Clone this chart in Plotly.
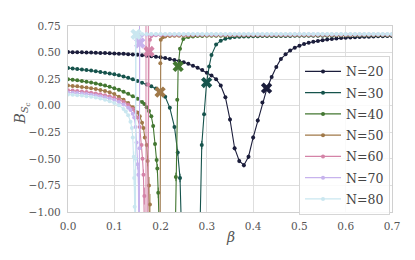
import plotly.graph_objects as go

# ---------------- data ----------------
beta_20 = [0.00,0.01,0.02,0.03,0.04,0.05,0.06,0.07,0.08,0.09,
           0.10,0.11,0.12,0.13,0.14,0.15,0.16,0.17,0.18,0.19,
           0.20,0.21,0.22,0.23,0.24,0.25,0.26,0.27,0.28,0.29,
           0.30,0.31,0.32,0.33,0.34,0.35,0.36,0.37,0.38,0.39,
           0.40,0.41,0.42,0.43,0.44,0.45,0.46,0.47,0.48,0.49,
           0.50,0.51,0.52,0.53,0.54,0.55,0.56,0.57,0.58,0.59,
           0.60,0.61,0.62,0.63,0.64,0.65,0.66,0.67,0.68,0.69,0.70]
B_20 = [0.505,0.504,0.503,0.502,0.501,0.500,0.499,0.497,0.496,0.494,
        0.492,0.490,0.488,0.485,0.482,0.479,0.475,0.471,0.466,0.461,
        0.455,0.448,0.440,0.431,0.420,0.408,0.394,0.377,0.357,0.335,
        0.310,0.285,0.250,0.190,0.080,-0.130,-0.400,-0.520,-0.560,-0.480,
        -0.300,-0.140,0.030,0.165,0.270,0.365,0.440,0.485,0.520,0.545,
        0.565,0.580,0.592,0.602,0.610,0.617,0.623,0.628,0.632,0.636,
        0.639,0.642,0.644,0.646,0.648,0.650,0.651,0.653,0.654,0.655,0.656]

beta_30 = [0.00,0.01,0.02,0.03,0.04,0.05,0.06,0.07,0.08,0.09,
           0.10,0.11,0.12,0.13,0.14,0.15,0.16,0.17,0.18,0.19,0.20,
           0.21,0.22,0.23,0.237,0.242,0.246,0.25,0.26,0.27,0.28,0.284,0.289,0.294,0.2995,0.305,0.31,0.32,
           0.33,0.34,0.35,0.36,0.37,0.38,0.39,0.40,0.41,0.42,
           0.43,0.44,0.45,0.46,0.47,0.48,0.49,0.50,0.51,0.52,
           0.53,0.54,0.55,0.56,0.57,0.58,0.59,0.60,0.61,0.62,
           0.63,0.64,0.65,0.66,0.67,0.68,0.69,0.70]
B_30 = [0.355,0.351,0.346,0.341,0.336,0.331,0.325,0.318,0.311,0.303,
        0.295,0.286,0.275,0.262,0.248,0.233,0.217,0.200,0.182,0.162,0.140,
        0.085,-0.020,-0.200,-0.440,-0.680,-1.350,-2.500,-3.500,-3.200,-2.200,-1.400,-0.370,-0.080,0.220,0.370,0.476,0.575,
        0.612,0.630,0.640,0.646,0.649,0.651,0.652,0.653,0.654,0.655,
        0.655,0.656,0.656,0.657,0.657,0.657,0.658,0.658,0.658,0.658,
        0.659,0.659,0.659,0.659,0.659,0.660,0.660,0.660,0.660,0.660,
        0.660,0.661,0.661,0.661,0.661,0.661,0.661,0.661]

beta_40 = [0.00,0.01,0.02,0.03,0.04,0.05,0.06,0.07,0.08,0.09,
           0.10,0.11,0.12,0.13,0.14,0.15,0.16,
           0.165,0.17,0.175,0.18,0.184,0.188,0.1915,0.193,0.195,0.197,0.20,0.21,0.22,0.229,0.233,0.236,0.238,0.242,0.249,
           0.26,0.27,0.28,0.29,0.30,0.31,0.32,0.33,0.34,0.35,
           0.36,0.37,0.38,0.39,0.40,0.41,0.42,0.43,0.44,0.45,
           0.46,0.47,0.48,0.49,0.50,0.51,0.52,0.53,0.54,0.55,
           0.56,0.57,0.58,0.59,0.60,0.61,0.62,0.63,0.64,0.65,
           0.66,0.67,0.68,0.69,0.70]
B_40 = [0.250,0.245,0.239,0.233,0.226,0.218,0.210,0.200,0.190,0.178,
        0.165,0.150,0.132,0.112,0.090,0.065,0.035,
        0.015,-0.015,-0.050,-0.100,-0.190,-0.360,-0.510,-0.590,-0.820,-1.300,-2.400,-3.300,-3.000,-1.900,-0.670,0.056,0.370,0.537,0.628,
        0.646,0.652,0.655,0.657,0.658,0.658,0.659,0.659,0.659,0.660,
        0.660,0.660,0.660,0.661,0.661,0.661,0.661,0.661,0.661,0.661,
        0.661,0.662,0.662,0.662,0.662,0.662,0.662,0.662,0.662,0.662,
        0.662,0.662,0.662,0.662,0.663,0.663,0.663,0.663,0.663,0.663,
        0.663,0.663,0.663,0.663,0.663]

beta_50 = [0.00,0.01,0.02,0.03,0.04,0.05,0.06,0.07,0.08,0.09,
           0.10,0.11,0.12,0.13,0.14,0.15,
           0.155,0.16,0.163,0.166,0.17,0.172,0.175,0.177,0.179,0.185,0.19,0.195,0.1985,0.199,0.1995,0.2005,0.205,0.21,
           0.22,0.23,0.24,0.25,0.26,0.27,0.28,0.29,0.30,0.31,
           0.32,0.33,0.34,0.35,0.36,0.37,0.38,0.39,0.40,0.41,
           0.42,0.43,0.44,0.45,0.46,0.47,0.48,0.49,0.50,0.51,
           0.52,0.53,0.54,0.55,0.56,0.57,0.58,0.59,0.60,0.61,
           0.62,0.63,0.64,0.65,0.66,0.67,0.68,0.69,0.70]
B_50 = [0.190,0.186,0.182,0.177,0.171,0.165,0.157,0.149,0.139,0.127,
        0.110,0.085,0.055,0.025,-0.015,-0.065,
        -0.100,-0.160,-0.210,-0.300,-0.370,-0.520,-0.750,-0.930,-1.500,-2.600,-3.000,-2.500,-1.600,0.130,0.400,0.620,0.645,0.652,
        0.656,0.658,0.659,0.660,0.661,0.661,0.662,0.662,0.662,0.663,
        0.663,0.663,0.663,0.663,0.663,0.663,0.663,0.663,0.663,0.663,
        0.663,0.663,0.664,0.664,0.664,0.664,0.664,0.664,0.664,0.664,
        0.664,0.664,0.664,0.664,0.664,0.664,0.664,0.664,0.664,0.664,
        0.665,0.665,0.665,0.665,0.665,0.665,0.665,0.665,0.665]

beta_60 = [0.00,0.01,0.02,0.03,0.04,0.05,0.06,0.07,0.08,0.09,
           0.10,0.11,0.12,0.13,0.14,
           0.145,0.15,0.155,0.159,0.161,0.163,0.165,0.167,0.1685,0.171,0.1735,0.175,0.177,0.18,
           0.19,0.20,0.21,0.22,0.23,0.24,0.25,0.26,0.27,0.28,
           0.29,0.30,0.31,0.32,0.33,0.34,0.35,0.36,0.37,0.38,
           0.39,0.40,0.41,0.42,0.43,0.44,0.45,0.46,0.47,0.48,
           0.49,0.50,0.51,0.52,0.53,0.54,0.55,0.56,0.57,0.58,
           0.59,0.60,0.61,0.62,0.63,0.64,0.65,0.66,0.67,0.68,
           0.69,0.70]
B_60 = [0.145,0.142,0.138,0.134,0.129,0.123,0.116,0.108,0.099,0.088,
        0.074,0.058,0.037,0.010,-0.030,
        -0.060,-0.110,-0.200,-0.370,-0.500,-0.650,-0.850,-1.400,-2.000,-1.800,0.200,0.510,0.620,0.655,
        0.664,0.666,0.667,0.667,0.668,0.668,0.668,0.668,0.668,0.668,
        0.668,0.668,0.668,0.668,0.668,0.668,0.668,0.668,0.668,0.668,
        0.668,0.668,0.668,0.668,0.668,0.668,0.668,0.668,0.668,0.668,
        0.669,0.669,0.669,0.669,0.669,0.669,0.669,0.669,0.669,0.669,
        0.669,0.669,0.669,0.669,0.669,0.669,0.669,0.669,0.669,0.669,
        0.669,0.669]

beta_70 = [0.00,0.01,0.02,0.03,0.04,0.05,0.06,0.07,0.08,0.09,
           0.10,0.11,0.12,0.13,
           0.135,0.14,0.143,0.146,0.148,0.150,0.152,0.1535,0.1545,0.155,0.157,
           0.16,0.17,0.18,0.19,0.20,0.21,0.22,0.23,0.24,0.25,
           0.26,0.27,0.28,0.29,0.30,0.31,0.32,0.33,0.34,0.35,
           0.36,0.37,0.38,0.39,0.40,0.41,0.42,0.43,0.44,0.45,
           0.46,0.47,0.48,0.49,0.50,0.51,0.52,0.53,0.54,0.55,
           0.56,0.57,0.58,0.59,0.60,0.61,0.62,0.63,0.64,0.65,
           0.66,0.67,0.68,0.69,0.70]
B_70 = [0.125,0.122,0.119,0.115,0.110,0.104,0.097,0.089,0.079,0.067,
        0.053,0.035,0.012,-0.020,
        -0.040,-0.075,-0.110,-0.200,-0.345,-0.550,-0.650,-1.600,-0.400,0.590,0.655,
        0.666,0.669,0.670,0.670,0.671,0.671,0.671,0.671,0.671,0.671,
        0.671,0.671,0.671,0.671,0.671,0.671,0.671,0.671,0.671,0.671,
        0.671,0.671,0.671,0.671,0.671,0.671,0.671,0.671,0.671,0.671,
        0.671,0.671,0.671,0.671,0.671,0.671,0.671,0.671,0.671,0.671,
        0.671,0.671,0.671,0.671,0.671,0.671,0.671,0.671,0.671,0.671,
        0.671,0.671,0.671,0.671,0.671]

beta_80 = [0.00,0.01,0.02,0.03,0.04,0.05,0.06,0.07,0.08,0.09,
           0.10,0.11,0.12,
           0.125,0.13,0.135,0.138,0.14,0.142,0.143,0.144,0.145,0.146,0.147,0.15,
           0.16,0.17,0.18,0.19,0.20,0.21,0.22,0.23,0.24,0.25,
           0.26,0.27,0.28,0.29,0.30,0.31,0.32,0.33,0.34,0.35,
           0.36,0.37,0.38,0.39,0.40,0.41,0.42,0.43,0.44,0.45,
           0.46,0.47,0.48,0.49,0.50,0.51,0.52,0.53,0.54,0.55,
           0.56,0.57,0.58,0.59,0.60,0.61,0.62,0.63,0.64,0.65,
           0.66,0.67,0.68,0.69,0.70]
B_80 = [0.105,0.102,0.099,0.095,0.090,0.084,0.077,0.068,0.057,0.043,
        0.026,0.004,-0.030,
        -0.055,-0.090,-0.150,-0.210,-0.300,-0.480,-0.680,-0.950,-1.600,-0.500,0.672,0.673,
        0.674,0.674,0.674,0.674,0.674,0.674,0.674,0.674,0.674,0.674,
        0.674,0.674,0.674,0.674,0.674,0.674,0.674,0.674,0.674,0.674,
        0.674,0.674,0.674,0.674,0.674,0.674,0.674,0.674,0.674,0.674,
        0.674,0.674,0.674,0.674,0.674,0.674,0.674,0.674,0.674,0.674,
        0.674,0.674,0.674,0.674,0.674,0.674,0.674,0.674,0.674,0.674,
        0.674,0.674,0.674,0.674,0.674]

# larger error bars near the transitions (beta -> error); others small
err_small = 0.006
err_big = {
    20: {0.35: 0.02, 0.36: 0.02, 0.37: 0.02, 0.38: 0.02, 0.39: 0.02, 0.40: 0.02, 0.41: 0.02},
    30: {0.237: 0.03, 0.242: 0.04, 0.289: 0.04},
    40: {0.1915: 0.03, 0.193: 0.04, 0.195: 0.05, 0.233: 0.04},
    50: {0.172: 0.05, 0.175: 0.08, 0.177: 0.10},
    60: {0.163: 0.05, 0.165: 0.08, 0.1685: 2.8, 0.1735: 0.6},
    70: {0.150: 0.05, 0.152: 0.08, 0.1545: 1.2},
    80: {0.142: 0.05, 0.143: 0.08, 0.146: 1.2},
}

# pseudo-critical markers (X)
x_beta = {20: 0.429, 30: 0.2995, 40: 0.238, 50: 0.199, 60: 0.175, 70: 0.155, 80: 0.147}
x_B = {20: 0.165, 30: 0.218, 40: 0.37, 50: 0.128, 60: 0.51, 70: 0.59, 80: 0.672}

sizes = [20, 30, 40, 50, 60, 70, 80]
colors = ["#1b1d3b", "#16534c", "#437731", "#a07949", "#d483a7", "#c7b3ed", "#cae7f0"]
series = {20: (beta_20, B_20), 30: (beta_30, B_30), 40: (beta_40, B_40),
          50: (beta_50, B_50), 60: (beta_60, B_60), 70: (beta_70, B_70),
          80: (beta_80, B_80)}

x_ticks = [0.0, 0.1, 0.2, 0.3, 0.4, 0.5, 0.6, 0.7]
x_tick_labels = ["0.0", "0.1", "0.2", "0.3", "0.4", "0.5", "0.6", "0.7"]
y_ticks = [-1.00, -0.75, -0.50, -0.25, 0.00, 0.25, 0.50, 0.75]
y_tick_labels = ["\u22121.00", "\u22120.75", "\u22120.50", "\u22120.25", "0.00", "0.25", "0.50", "0.75"]

FONT = "DejaVu Serif, serif"

fig = go.Figure()
for N, c in zip(sizes, colors):
    b, v = series[N]
    assert len(b) == len(v), (N, len(b), len(v))
    err = [err_big[N].get(x, err_small) for x in b]
    fig.add_trace(go.Scatter(
        x=b, y=v, mode="lines+markers", name=f"N={N}", legendgroup=str(N),
        line=dict(color=c, width=1.1),
        marker=dict(size=4, color=c),
        error_y=dict(type="data", array=err, color=c, thickness=1, width=0),
    ))
    fig.add_trace(go.Scatter(
        x=[x_beta[N]], y=[x_B[N]], mode="markers", showlegend=False, legendgroup=str(N),
        marker=dict(symbol="x", size=10, color=c, line=dict(width=0)),
    ))

axis_common = dict(
    showgrid=True, gridcolor="#dedede", gridwidth=1.2,
    showline=True, linecolor="#d0d0d0", linewidth=1.2, mirror=True,
    ticks="", ticklen=0, zeroline=False,
    tickfont=dict(family=FONT, size=10.5, color="#555555"),
)
fig.update_xaxes(range=[0, 0.7], tickmode="array", tickvals=x_ticks, ticktext=x_tick_labels,
                 ticklabelstandoff=4, **axis_common)
fig.update_yaxes(range=[-1.0, 0.75], tickmode="array", tickvals=y_ticks, ticktext=y_tick_labels,
                 ticklabelstandoff=4, **axis_common)

fig.add_annotation(text="<i>β</i>", xref="paper", yref="paper", x=0.5, y=-0.135,
                   showarrow=False, font=dict(family=FONT, size=14, color="#555555"),
                   xanchor="center", yanchor="middle")
fig.add_annotation(text="<i>B</i><sub><i>S</i><sub><i>c</i></sub></sub>", xref="paper", yref="paper",
                   x=-0.142, y=0.53, textangle=-90, showarrow=False,
                   font=dict(family=FONT, size=14, color="#555555"),
                   xanchor="center", yanchor="middle")

# the page body adds an 8px offset, so the figure is drawn 8px smaller
fig.update_layout(
    width=407, height=252,
    margin=dict(l=60, r=23, t=12, b=48),
    plot_bgcolor="white", paper_bgcolor="white",
    font=dict(family=FONT, color="#555555"),
    legend=dict(x=0.713, y=0.84, xanchor="left", yanchor="top",
                bgcolor="rgba(255,255,255,0.85)", bordercolor="#d6d6d6", borderwidth=1,
                font=dict(family=FONT, size=12.5, color="#444444"),
                itemwidth=36, tracegroupgap=2),
    showlegend=True,
)

fig.write_html("out.html")
